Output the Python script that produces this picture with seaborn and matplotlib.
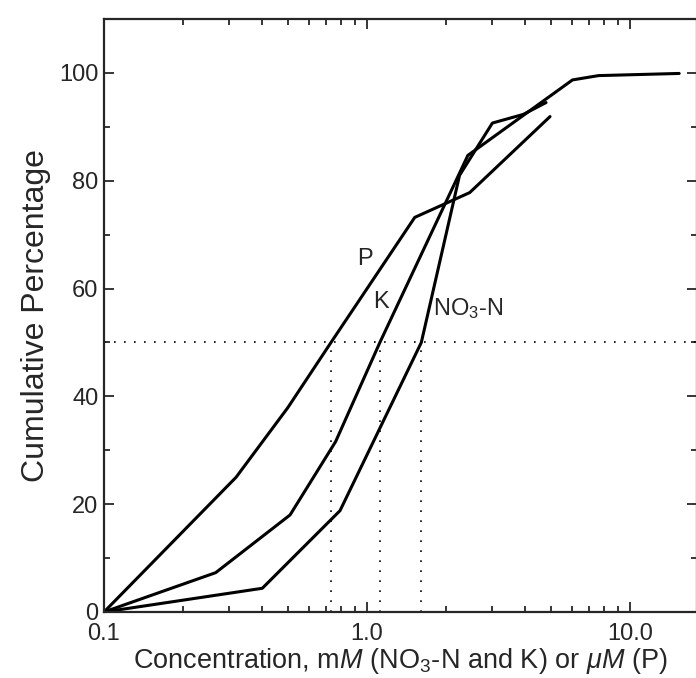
import numpy as np
import pandas as pd
import matplotlib
matplotlib.use('Agg')
import matplotlib.pyplot as plt
from matplotlib.ticker import LogLocator, FixedLocator, NullFormatter, MultipleLocator
import seaborn as sns

# values
p_conc = [0.1, 0.318, 0.50, 0.73, 1.52, 2.46, 4.97]
p_cum = [0, 25.0, 37.9, 50.0, 73.2, 77.8, 91.9]

k_conc = [0.1, 0.266, 0.51, 0.76, 1.12, 2.42, 6.05, 7.6, 15.4]
k_cum = [0, 7.3, 18.0, 31.6, 50.0, 84.7, 98.7, 99.5, 99.9]

n_conc = [0.1, 0.40, 0.79, 1.61, 2.25, 3.0, 3.93, 4.8]
n_cum = [0, 4.4, 18.8, 50.0, 81.0, 90.7, 92.3, 94.5]

medians = [0.73, 1.12, 1.61]
curve_names = ['P', 'K', 'NO3-N']

sns.set_style('ticks')
plt.rcParams['font.family'] = ['Liberation Sans', 'DejaVu Sans']
plt.rcParams['mathtext.fontset'] = 'custom'
plt.rcParams['mathtext.rm'] = 'Liberation Sans'
plt.rcParams['mathtext.it'] = 'Liberation Sans:italic'

df = pd.concat([
    pd.DataFrame({'conc': p_conc, 'cum': p_cum, 'curve': 'P'}),
    pd.DataFrame({'conc': k_conc, 'cum': k_cum, 'curve': 'K'}),
    pd.DataFrame({'conc': n_conc, 'cum': n_cum, 'curve': 'NO3-N'}),
])

fig = plt.figure(figsize=(6.96, 6.78), dpi=100)
ax = fig.add_axes([104 / 696, 66 / 678, 593 / 696, 593 / 678])

for name in curve_names:
    sub = df[df['curve'] == name]
    sns.lineplot(data=sub, x='conc', y='cum', ax=ax, color='black', lw=2.2,
                 sort=False, estimator=None, legend=False)

# median guide lines
ax.axhline(50, color='black', lw=1.2, ls=(0, (1, 5)))
for m in medians:
    ax.plot([m, m], [0, 50], color='black', lw=1.2, ls=(0, (1, 5)))

ax.set_xscale('log')
ax.set_xlim(0.1, 18)
ax.set_ylim(0, 110)

ax.xaxis.set_major_locator(FixedLocator([0.1, 1.0, 10.0]))
ax.set_xticklabels(['0.1', '1.0', '10.0'])
ax.xaxis.set_minor_locator(LogLocator(base=10, subs=np.arange(2, 10)))
ax.xaxis.set_minor_formatter(NullFormatter())
ax.set_yticks([0, 20, 40, 60, 80, 100])
ax.yaxis.set_minor_locator(MultipleLocator(10))

ax.tick_params(which='both', direction='in', top=True, right=True, width=1.3,
               labelsize=17, pad=4)
ax.tick_params(axis='x', which='major', pad=8)
ax.tick_params(which='major', length=7)
ax.tick_params(which='minor', length=4)
for s in ax.spines.values():
    s.set_linewidth(1.6)

ax.set_xlabel(r'Concentration, m$\mathit{M}$ (NO$_3$-N and K) or $\mu\mathit{M}$ (P)',
              fontsize=19.5, labelpad=1)
ax.set_ylabel('Cumulative Percentage', fontsize=23, labelpad=6)

ax.text(0.98, 65.5, 'P', fontsize=17, ha='center', va='center')
ax.text(1.13, 57.5, 'K', fontsize=17, ha='center', va='center')
ax.text(1.78, 56.3, r'NO$_3$-N', fontsize=17, ha='left', va='center')

fig.savefig('out.png', dpi=100)
